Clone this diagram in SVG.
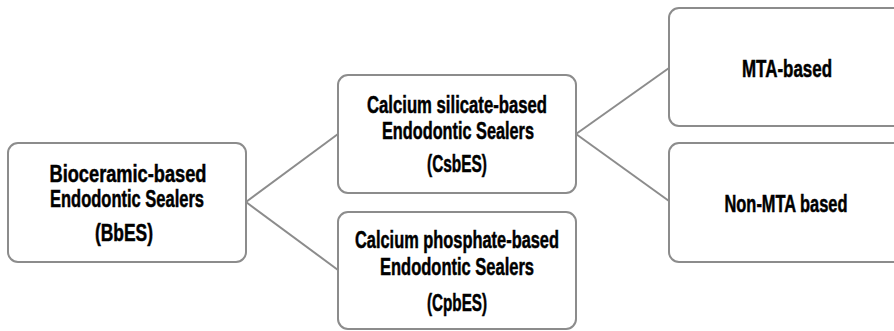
<svg xmlns="http://www.w3.org/2000/svg" width="894" height="331" viewBox="0 0 894 331">
<style>
.box{fill:#fff;stroke:#8c8c8c;stroke-width:2}
.con{fill:none;stroke:#8c8c8c;stroke-width:2}
text{font-family:"Liberation Sans",Arial,sans-serif;font-weight:bold;font-size:23.5px;fill:#000;stroke:#000;stroke-width:0.5;text-anchor:middle}
</style>
<rect width="894" height="331" fill="#fff"/>
<g id="connectors">
<line class="con" x1="246" y1="202" x2="338" y2="134"/>
<line class="con" x1="246" y1="202" x2="338" y2="270"/>
<line class="con" x1="576" y1="134" x2="669" y2="68"/>
<line class="con" x1="576" y1="134" x2="669" y2="201"/>
</g>
<g id="bbes">
<rect class="box" x="8" y="143" width="238" height="119" rx="10"/>
<text x="128" y="182" textLength="157" lengthAdjust="spacingAndGlyphs">Bioceramic-based</text>
<text x="127" y="207" textLength="154" lengthAdjust="spacingAndGlyphs">Endodontic Sealers</text>
<text x="124" y="241" textLength="58" lengthAdjust="spacingAndGlyphs">(BbES)</text>
</g>
<g id="csbes">
<rect class="box" x="338" y="75" width="238" height="118" rx="10"/>
<text x="457" y="113" textLength="180" lengthAdjust="spacingAndGlyphs">Calcium silicate-based</text>
<text x="458" y="139" textLength="152" lengthAdjust="spacingAndGlyphs">Endodontic Sealers</text>
<text x="457" y="172" textLength="60" lengthAdjust="spacingAndGlyphs">(CsbES)</text>
</g>
<g id="cpbes">
<rect class="box" x="338" y="212" width="238" height="117" rx="10"/>
<text x="457" y="248" textLength="204" lengthAdjust="spacingAndGlyphs">Calcium phosphate-based</text>
<text x="457" y="275" textLength="154" lengthAdjust="spacingAndGlyphs">Endodontic Sealers</text>
<text x="457" y="311" textLength="60" lengthAdjust="spacingAndGlyphs">(CpbES)</text>
</g>
<g id="mta">
<path class="box" d="M894 8 H679 A10 10 0 0 0 669 18 V116 A10 10 0 0 0 679 126 H894"/>
<text x="787" y="77" textLength="90" lengthAdjust="spacingAndGlyphs">MTA-based</text>
</g>
<g id="nonmta">
<path class="box" d="M894 143 H679 A10 10 0 0 0 669 153 V252 A10 10 0 0 0 679 262 H894"/>
<text x="786" y="212" textLength="123" lengthAdjust="spacingAndGlyphs">Non-MTA based</text>
</g>
</svg>
